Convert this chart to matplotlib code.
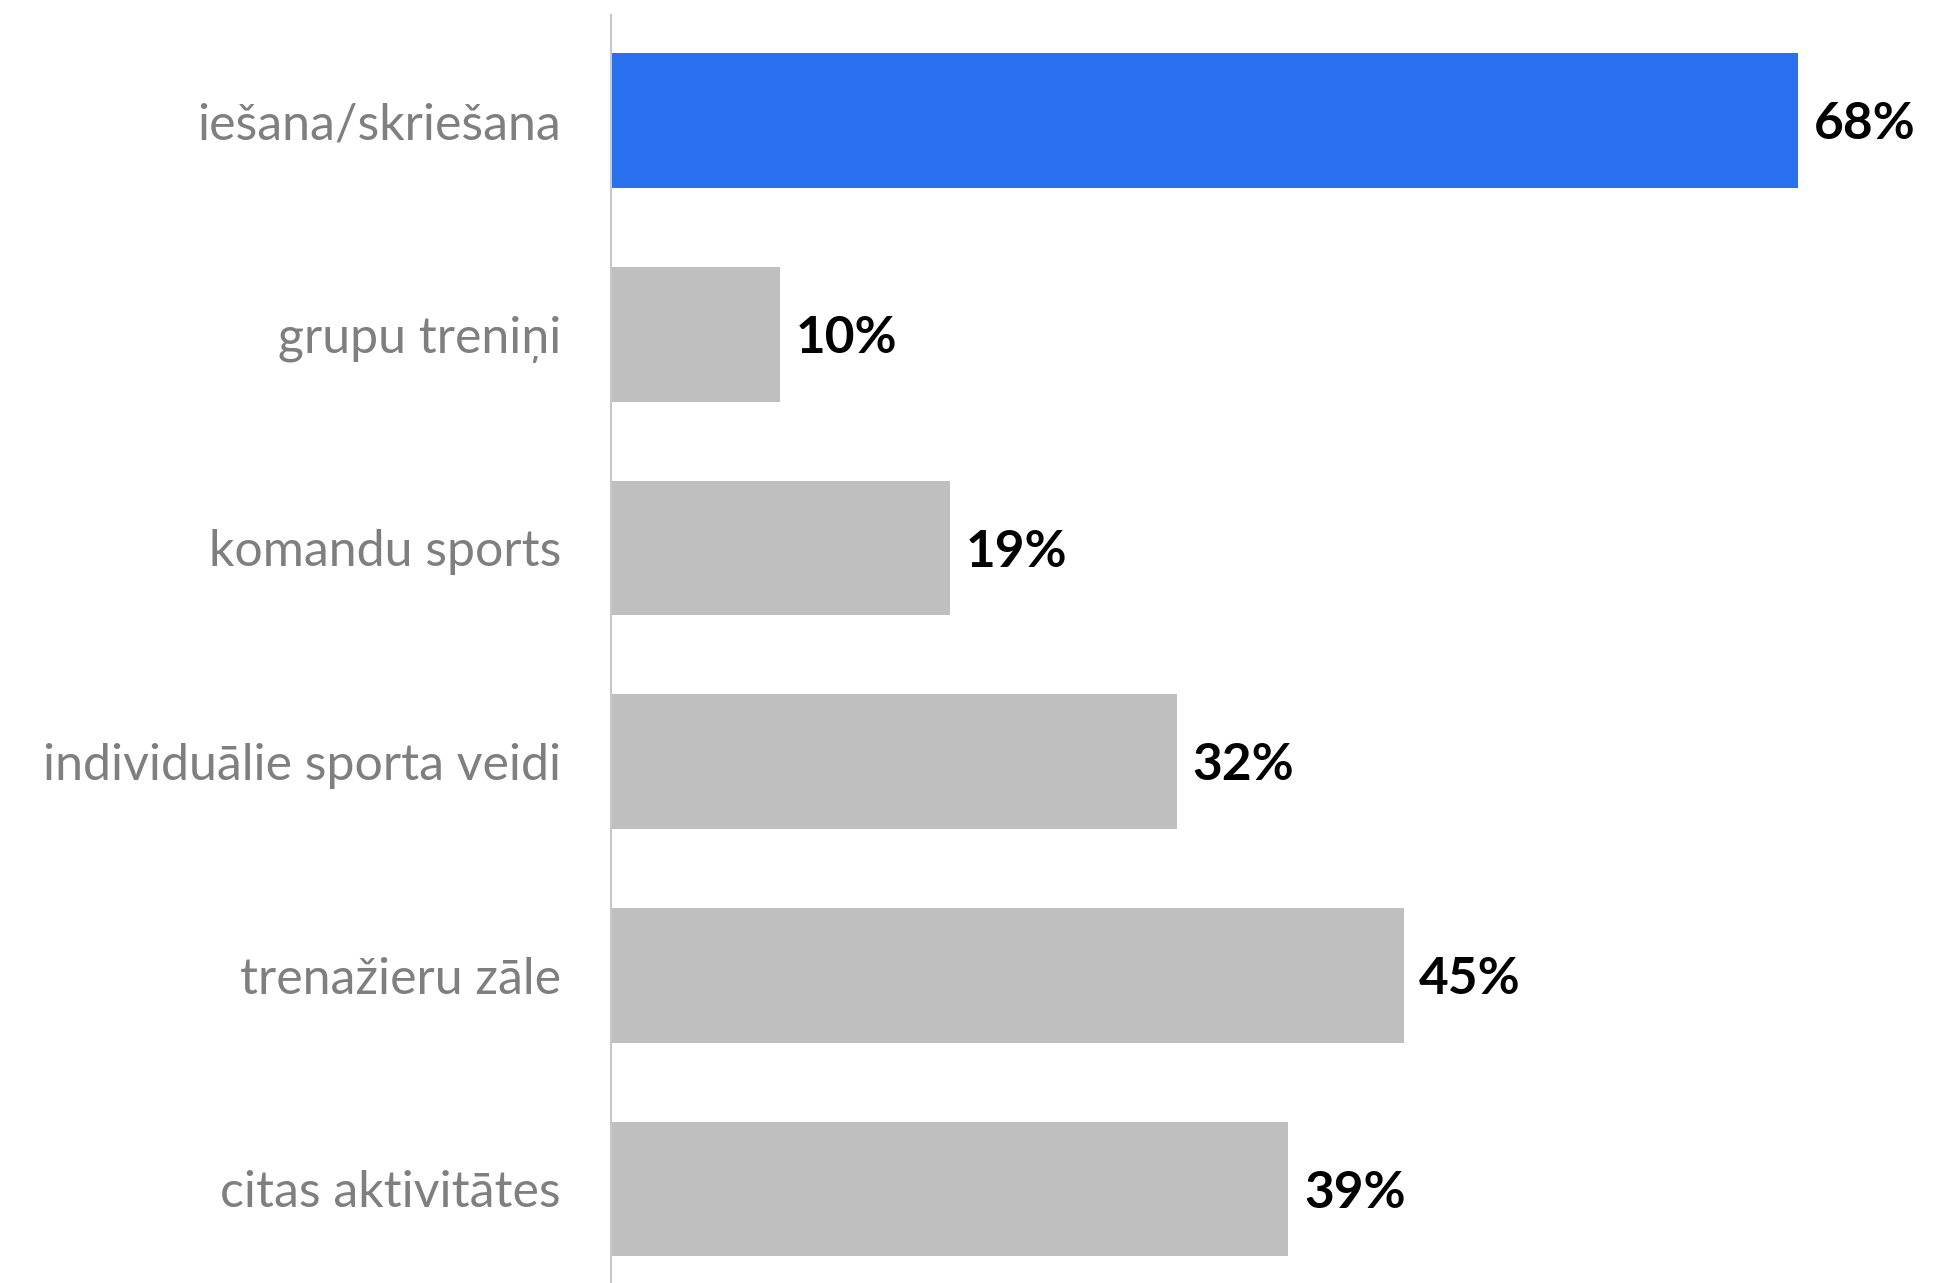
import numpy as np
import matplotlib.pyplot as plt

# dati
categories = ['iešana/skriešana', 'grupu treniņi', 'komandu sports',
              'individuālie sporta veidi', 'trenažieru zāle', 'citas aktivitātes']
values = [68, 9.7, 19.4, 32.4, 45.4, 38.8]
highlight = 'iešana/skriešana'

colors = ['#2870ed' if c == highlight else '#bfbfbf' for c in categories]

fig = plt.figure(figsize=(19.5, 12.83), dpi=100)
ax = fig.add_axes([0.3133, 0.0, 0.6867, 0.9883])

y = np.arange(len(categories))
ax.barh(y, values, height=0.63, color=colors)

for yi, v in zip(y, values):
    ax.text(v + 0.9, yi + 0.02, f'{v:.0f}%', va='center', ha='left',
            fontsize=37, fontweight='bold', color='black', family='Lato')

ax.set_yticks(y)
ax.set_yticklabels(categories, fontsize=36, color='#7f7f7f', family='Lato')
ax.tick_params(axis='y', length=0, pad=36)
ax.set_xticks([])
ax.set_xlim(0, 76.7)
ax.set_ylim(5.44, -0.494)

for s in ['top', 'right', 'bottom']:
    ax.spines[s].set_visible(False)
ax.spines['left'].set_color('#c8c8c8')
ax.spines['left'].set_linewidth(1.5)

fig.savefig('out.png', dpi=100)
